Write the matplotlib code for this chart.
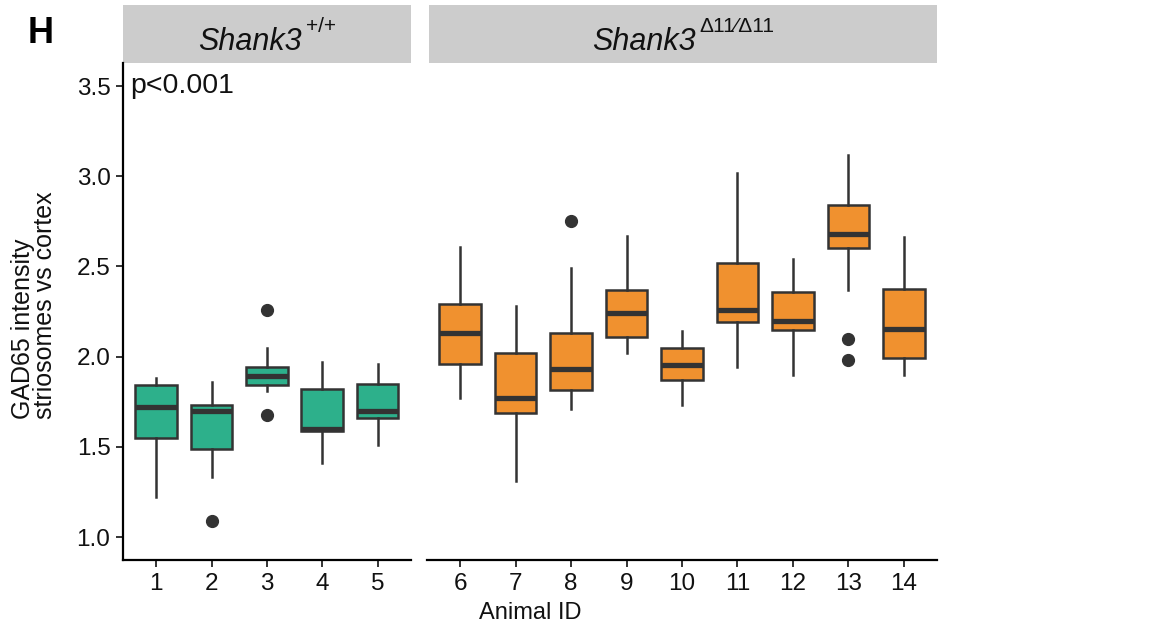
import matplotlib
matplotlib.use("Agg")
import matplotlib.pyplot as plt
from matplotlib.patches import Rectangle

plt.rcParams['font.family'] = ['Liberation Sans', 'DejaVu Sans']

# ---- data ----
wt_ids = [1, 2, 3, 4, 5]
wt_whislo = [1.22, 1.33, 1.81, 1.41, 1.51]
wt_q1 = [1.55, 1.49, 1.84, 1.585, 1.66]
wt_med = [1.72, 1.70, 1.89, 1.60, 1.70]
wt_q3 = [1.84, 1.73, 1.94, 1.82, 1.85]
wt_whishi = [1.88, 1.86, 2.05, 1.97, 1.96]
wt_fliers = [[], [1.09], [2.26, 1.675], [], []]

ko_ids = [6, 7, 8, 9, 10, 11, 12, 13, 14]
ko_whislo = [1.77, 1.31, 1.71, 2.02, 1.73, 1.94, 1.90, 2.37, 1.90]
ko_q1 = [1.96, 1.69, 1.815, 2.11, 1.87, 2.19, 2.145, 2.605, 1.99]
ko_med = [2.13, 1.77, 1.93, 2.24, 1.955, 2.26, 2.20, 2.68, 2.155]
ko_q3 = [2.29, 2.02, 2.13, 2.37, 2.05, 2.52, 2.36, 2.84, 2.375]
ko_whishi = [2.61, 2.28, 2.49, 2.67, 2.14, 3.02, 2.54, 3.12, 2.665]
ko_fliers = [[], [], [2.75], [], [], [], [], [2.10, 1.98], []]

y_ticks = [1.0, 1.5, 2.0, 2.5, 3.0, 3.5]
strip_main = ["Shank3", "Shank3"]
strip_sup = ["+/+", "Δ11\u2044Δ11"]
x_label = "Animal ID"
y_label = "GAD65 intensity\nstriosomes vs cortex"
p_text = "p<0.001"
panel_letter = "H"

green = "#2DB08B"
orange = "#F0912F"
dark = "#333333"
txt = "#111111"

W, H = 1162, 624
fig = plt.figure(figsize=(W / 100, H / 100), dpi=100)

def fx(px):
    return px / W

def fy(py):
    return 1 - py / H

top, bot = 63, 560
axL = fig.add_axes([fx(123), fy(bot), fx(410.7) - fx(123), fy(top) - fy(bot)])
axR = fig.add_axes([fx(427), fy(bot), fx(937) - fx(427), fy(top) - fy(bot)])

def make_stats(ids, lo, q1, med, q3, hi, fl):
    return [dict(whislo=a, q1=b, med=c, q3=d, whishi=e, fliers=f, label=str(i))
            for i, a, b, c, d, e, f in zip(ids, lo, q1, med, q3, hi, fl)]

def draw(ax, ids, stats, color):
    ax.bxp(stats, positions=ids, widths=0.75, patch_artist=True, showfliers=True,
           boxprops=dict(facecolor=color, edgecolor=dark, linewidth=1.8),
           medianprops=dict(color=dark, linewidth=3.8, solid_capstyle='butt'),
           whiskerprops=dict(color=dark, linewidth=1.8),
           capprops=dict(linewidth=0),
           flierprops=dict(marker='o', markerfacecolor=dark, markeredgecolor=dark,
                           markersize=8.5, linestyle='none'),
           manage_ticks=False)

draw(axL, wt_ids, make_stats(wt_ids, wt_whislo, wt_q1, wt_med, wt_q3, wt_whishi, wt_fliers), green)
draw(axR, ko_ids, make_stats(ko_ids, ko_whislo, ko_q1, ko_med, ko_q3, ko_whishi, ko_fliers), orange)

ylim = (0.8725, 3.628)
for ax, ids, xl in [(axL, wt_ids, (0.4, 5.6)), (axR, ko_ids, (5.4, 14.6))]:
    ax.set_xlim(*xl)
    ax.set_ylim(*ylim)
    ax.set_xticks(ids)
    ax.set_xticklabels([str(i) for i in ids], fontsize=17.5, color=txt)
    for s in ['top', 'right']:
        ax.spines[s].set_visible(False)
    ax.spines['bottom'].set_linewidth(1.6)
    ax.spines['left'].set_linewidth(1.6)
    ax.tick_params(axis='both', direction='out', length=5, width=1.4, color=dark, pad=4)

axL.set_yticks(y_ticks)
axL.set_yticklabels([f"{v:.1f}" for v in y_ticks], fontsize=17.5, color=txt)

axR.spines['left'].set_visible(False)
axR.set_yticks([])

# strips
strip_h = (63 - 5) / (bot - top)
for ax, x0 in [(axL, 0.0), (axR, (429 - 427) / (937 - 427))]:
    ax.add_patch(Rectangle((x0, 1.0), 1.0 - x0, strip_h, transform=ax.transAxes,
                           facecolor="#CCCCCC", edgecolor='none', clip_on=False))

renderer = fig.canvas.get_renderer()
for cx, main, sup in [(267, strip_main[0], strip_sup[0]), (683, strip_main[1], strip_sup[1])]:
    t1 = fig.text(0, 0, main, fontsize=22, style='italic', ha='left', va='baseline', color=txt)
    t2 = fig.text(0, 0, sup, fontsize=15, ha='left', va='baseline', color=txt,
                  family=['Liberation Sans', 'DejaVu Sans'])
    w1 = t1.get_window_extent(renderer).width
    w2 = t2.get_window_extent(renderer).width
    gap = 4
    x0 = cx - (w1 + gap + w2) / 2
    t1.set_position((fx(x0), fy(49.5)))
    t2.set_position((fx(x0 + w1 + gap), fy(31.5)))

axL.text(0.025, 3.5, p_text, transform=axL.get_yaxis_transform(), ha='left', va='center',
         fontsize=20.5, color=txt)

fig.text(fx(34), fy(305), y_label, rotation=90, ha='center', va='center',
         multialignment='left', fontsize=18, linespacing=0.85, color=txt)
fig.text(fx(530), fy(613), x_label, ha='center', va='center', fontsize=17, color=txt)
fig.text(fx(40.6), fy(33.5), panel_letter, ha='center', va='center', fontsize=26,
         fontweight='bold', color='black')

fig.savefig("out.png", dpi=100)
